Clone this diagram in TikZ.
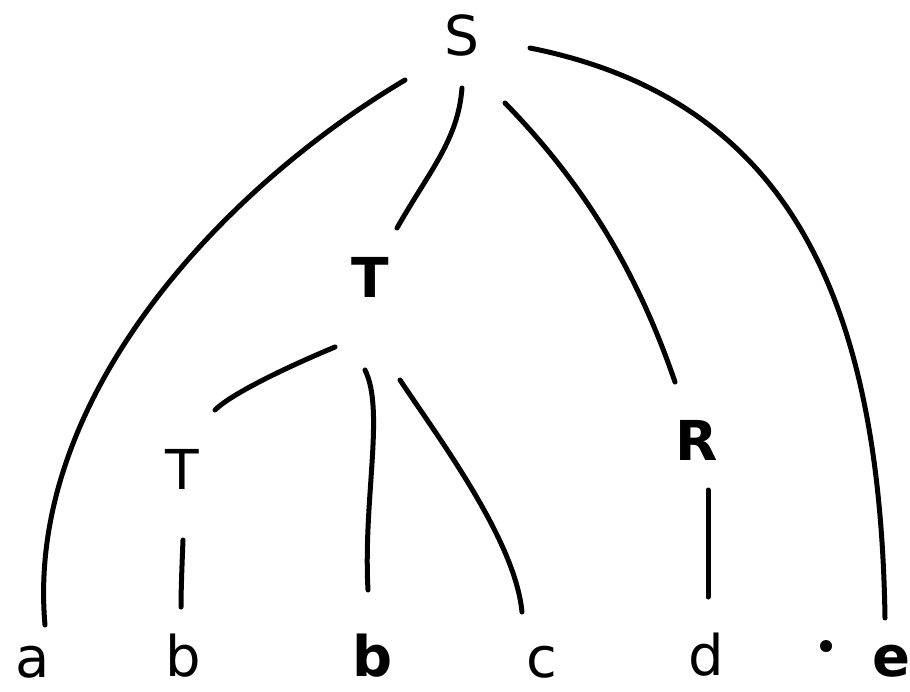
\documentclass[tikz,border=0pt]{standalone}
\usepackage{fontspec}
\setmainfont{DejaVu Sans}
\begin{document}
\begin{tikzpicture}[x=1pt,y=-1pt,
  edge/.style={line width=5pt, line cap=round, line join=round},
  lab/.style={font=\fontsize{55}{55}\selectfont, inner sep=0pt, anchor=base},
  bold/.style={lab, font=\fontsize{55}{55}\selectfont\bfseries},
  leaf/.style={lab, font=\fontsize{56}{56}\selectfont},
  boldleaf/.style={lab, font=\fontsize{56}{56}\selectfont\bfseries}]
\useasboundingbox (0,0) rectangle (910,691);
% labels
\node[lab] (S) at (462,55) {S};
\node[bold] (T1) at (370,297) {T};
\node[lab] (T2) at (182,489) {T};
\node[bold] (R) at (697,460) {R};
\node[leaf] (a) at (33,677) {a};
\node[leaf] (b1) at (183,676) {b};
\node[boldleaf] (b2) at (373,676) {b};
\node[leaf] (c) at (542,677) {c};
\node[leaf] (d) at (706,675) {d};
\node[boldleaf] (e) at (891,676) {e};
\fill (826,646) circle (6pt) coordinate (dot);
% edge ends
\coordinate (Sa) at (405,80);   \coordinate (aS) at (45,625);
\coordinate (ST) at (462,88);   \coordinate (TS) at (397,228);
\coordinate (SR) at (505,103);  \coordinate (RS) at (675,382);
\coordinate (Se) at (530,48);   \coordinate (eS) at (885,618);
\coordinate (TT) at (335,347);  \coordinate (TTl) at (215,410);
\coordinate (Tb) at (365,370);  \coordinate (bT) at (368,590);
\coordinate (Tc) at (400,380);  \coordinate (cT) at (522,612);
\coordinate (Tlb) at (183,540); \coordinate (bTl) at (181,607);
\coordinate (Rd) at (708,490);  \coordinate (dR) at (708,597);
% edges
\draw[edge] (Sa) .. controls (220,190) and (25,400) .. (aS);
\draw[edge] (ST) .. controls (458,140) and (430,170) .. (TS);
\draw[edge] (SR) .. controls (590,190) and (640,280) .. (RS);
\draw[edge] (Se) .. controls (790,100) and (880,300) .. (eS);
\draw[edge] (TT) .. controls (280,370) and (230,395) .. (TTl);
\draw[edge] (Tb) .. controls (385,410) and (363,500) .. (bT);
\draw[edge] (Tc) .. controls (440,440) and (515,540) .. (cT);
\draw[edge] (Tlb) .. controls (182,565) and (181,590) .. (bTl);
\draw[edge] (Rd) .. controls (708,530) and (708,570) .. (dR);
\end{tikzpicture}
\end{document}
